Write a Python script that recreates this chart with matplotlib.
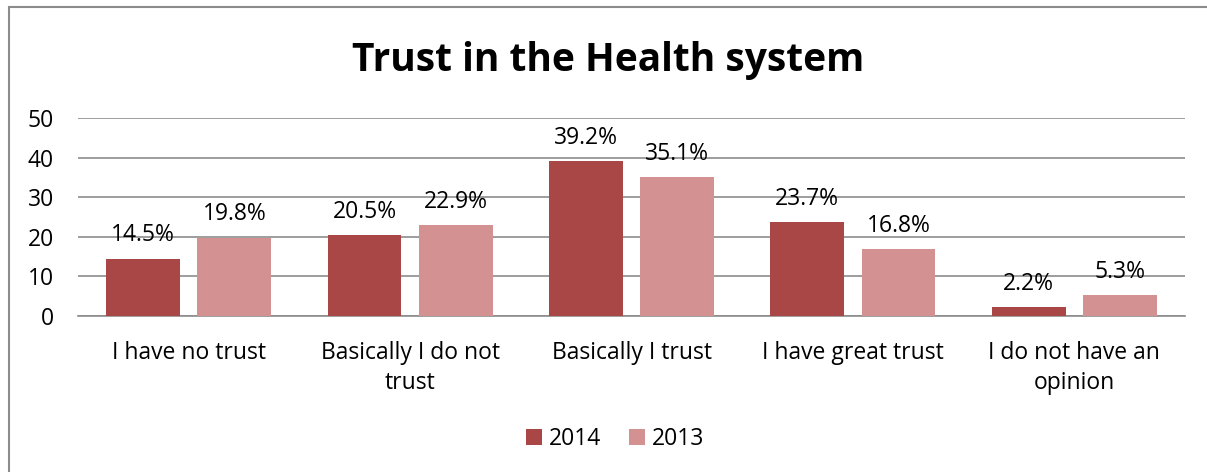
import matplotlib
matplotlib.use("Agg")
import matplotlib.pyplot as plt
import numpy as np
from matplotlib.patches import Rectangle

categories = ["I have no trust", "Basically I do not\ntrust", "Basically I trust",
              "I have great trust", "I do not have an\nopinion"]
series_names = ["2014", "2013"]
values_2014 = [14.5, 20.5, 39.2, 23.7, 2.2]
values_2013 = [19.8, 22.9, 35.1, 16.8, 5.3]
yticks = [0, 10, 20, 30, 40, 50]
colors = ["#A94646", "#D39191"]

plt.rcParams['font.family'] = ['Open Sans', 'DejaVu Sans']

W, H = 1207, 472
FS = 16.5
fig = plt.figure(figsize=(W / 100, H / 100), dpi=100)
ax = fig.add_axes([78 / W, 1 - 316 / H, (1185 - 78) / W, (316 - 118) / H])

x = np.arange(len(categories))
bw = 0.334
off = 0.206
for vals, sign, col, name in [(values_2014, -1, colors[0], series_names[0]),
                               (values_2013, 1, colors[1], series_names[1])]:
    bars = ax.bar(x + sign * off, vals, bw, color=col, label=name, zorder=3)
    for b, v in zip(bars, vals):
        ax.annotate(f"{v}%", (b.get_x() + b.get_width() / 2, v),
                    xytext=(0, 8), textcoords="offset points",
                    ha="center", va="bottom", fontsize=FS, color="black")

ax.set_xlim(-0.5, len(categories) - 0.5)
ax.set_ylim(0, 50)
ax.set_yticks(yticks)
ax.set_yticklabels([str(t) for t in yticks], fontsize=FS)
ax.set_xticks(x)
ax.set_xticklabels(categories, fontsize=FS, linespacing=1.32)
ax.tick_params(axis='both', length=0)
ax.tick_params(axis='y', pad=17.5)
ax.tick_params(axis='x', pad=18)
ax.grid(axis='y', color='#8c8c8c', linewidth=1.2, zorder=0)
for s in ['top', 'right', 'left']:
    ax.spines[s].set_visible(False)
ax.spines['bottom'].set_color('#8c8c8c')
ax.spines['bottom'].set_linewidth(1.2)

fig.text(608 / W, 1 - 61 / H, "Trust in the Health system", ha="center", va="center",
         fontsize=28, fontweight="bold")

fig.legend(loc="center", bbox_to_anchor=(615 / W, 1 - 439 / H), ncol=2, frameon=False,
           fontsize=FS, handlelength=0.7, handleheight=0.7, handletextpad=0.3,
           columnspacing=1.2)

# chart border (left and top visible)
fig.add_artist(Rectangle((8.5 / W, -0.1), 1.2, 1.1 - 7 / H, transform=fig.transFigure,
                         fill=False, edgecolor="#8c8c8c", linewidth=1.5))

fig.savefig("out.png", dpi=100)
